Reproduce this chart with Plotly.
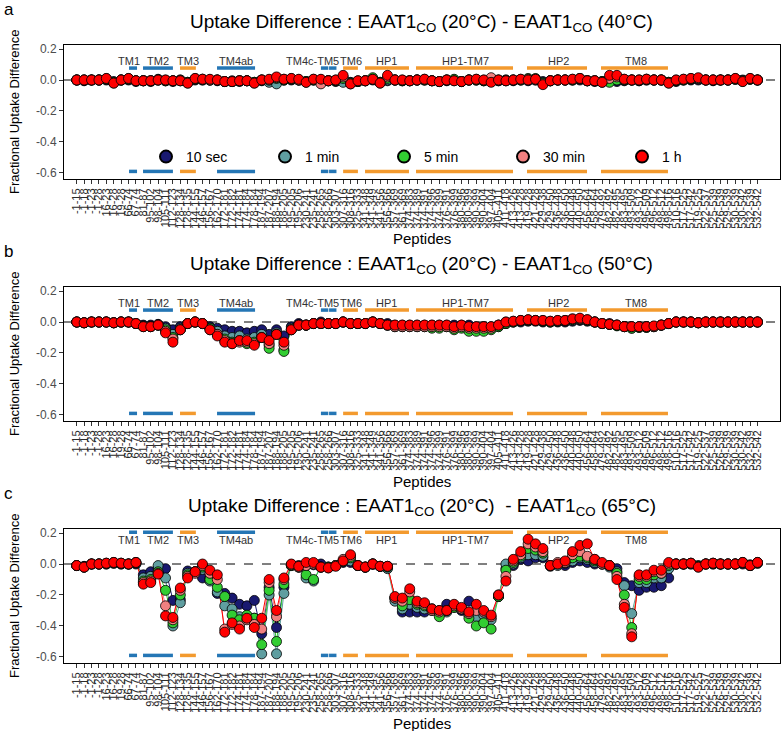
import plotly.graph_objects as go

# ---------------- data ----------------
peptides = ["-1-15","-1-18","-1-23","-1-28","16-23","16-28","19-28","66-74","67-74","81-87",
            "95-102","98-104","105-111","112-123","128-134","128-135","144-155","146-157","156-167","162-170",
            "172-181","172-182","174-181","174-184","178-184","187-194","187-207","188-194","188-205","195-205",
            "195-206","230-241","235-241","258-265","258-266","303-307","307-316","308-316","325-333","341-348",
            "341-349","341-356","356-366","357-369","361-369","374-383","374-389","374-391","374-396","374-399",
            "376-391","376-399","380-396","380-399","390-399","390-404","397-404","405-411","411-418","413-426",
            "413-428","419-428","421-428","429-438","429-450","436-448","436-450","440-448","440-450","456-464",
            "458-464","479-492","482-492","482-495","483-495","493-509","493-512","496-509","496-512","498-512",
            "498-516","510-516","517-525","517-542","519-525","522-537","525-539","526-539","529-539","530-539",
            "530-542","532-539","532-542"]

times = ["10 sec", "1 min", "5 min", "30 min", "1 h"]

# Panel a : 20C - 40C
a_10s = [0,-0.005,0,0,0,-0.01,0,0,-0.01,-0.005,
         -0.01,0,-0.005,-0.01,0,-0.015,0,0,0,-0.005,
         -0.01,-0.005,-0.01,-0.005,-0.015,-0.005,-0.01,-0.01,0,0,
         0,-0.01,0,0,-0.005,-0.01,-0.005,-0.015,-0.01,-0.005,
         0,-0.015,-0.005,0,-0.005,-0.005,0,0,-0.005,-0.01,
         -0.005,0,-0.01,0,0,-0.005,-0.01,-0.005,0,-0.005,
         0,-0.005,0,-0.01,-0.005,0,0,0,0,-0.005,
         -0.01,-0.01,-0.005,-0.01,-0.005,0,-0.005,0,0,0,
         -0.015,-0.01,0,0,0,0,-0.005,0,0,0.005,
         0,0.005,0]
a_1m = [0,0,0,0,0.005,-0.015,0,0.005,-0.005,-0.005,
        -0.005,0.005,-0.005,-0.005,0,-0.015,0.005,0,0,0,
        -0.01,-0.01,-0.005,-0.005,-0.015,0,-0.015,-0.025,0,0.005,
        0,-0.01,0,0,-0.005,-0.005,-0.015,-0.02,-0.01,-0.005,
        0.005,-0.015,0,0,-0.005,-0.005,0,0,-0.005,-0.01,
        0,0,-0.01,0,0,-0.005,-0.01,-0.005,0,0,
        0,0,0,-0.015,-0.005,0,0,0,0.005,-0.005,
        -0.005,-0.01,-0.01,0,0,0,-0.005,0,0,0,
        -0.015,-0.005,0,0.005,0.005,0,0,0,0,0.005,
        -0.005,0.005,0]
a_5m = [0,0,0,0,0.005,-0.015,0,0.005,-0.005,-0.005,
        -0.005,0,-0.005,-0.005,-0.005,-0.015,0.005,0.005,0,0,
        -0.01,-0.01,-0.005,-0.005,-0.015,0,0,0.01,0,0.005,
        0,-0.01,0,0,-0.005,-0.005,0.01,-0.02,-0.01,-0.005,
        0.015,-0.015,0.01,0,-0.005,-0.005,0,0,-0.005,-0.01,
        0,0.005,-0.01,0,0,-0.005,-0.01,0,-0.005,0,
        0,0.01,0.01,-0.02,-0.005,0,0,0,0.01,-0.005,
        -0.005,-0.01,-0.015,0,0,0,0,0.005,0,0,
        -0.015,-0.005,0,0.005,0.01,0,0,0,0,0.005,
        -0.005,0.005,0]
a_30m = [0,0,0,0,0.01,-0.02,0,0.01,-0.005,-0.005,
         -0.005,0,0,-0.005,-0.005,-0.02,0.01,0.005,0,0,
         -0.01,-0.01,-0.005,-0.005,-0.02,0,0,0.015,0.005,0.01,
         0,-0.015,0.005,-0.025,-0.005,0,0.02,-0.025,-0.005,-0.005,
         0.005,-0.02,0.02,0,0,-0.005,0,0.005,-0.005,-0.01,
         0,-0.005,-0.01,0,0.005,0,0.015,0,-0.005,0,
         0.005,0.005,0.005,-0.025,-0.005,0,0,0.005,0.01,-0.005,
         -0.005,-0.015,0.01,0.02,0.005,0,0,0.005,0,0,
         -0.02,0,0.005,0.01,0.01,0,0,0,0,0.01,
         -0.01,0.01,0]
a_1h = [0,0,0,0,0.01,-0.02,0,0.01,-0.005,-0.005,
        -0.005,0,0,-0.005,-0.005,-0.02,0.01,0.005,0.005,0,
        -0.01,-0.01,-0.005,-0.005,-0.02,0,0.005,0.02,0.005,0.01,
        0.005,-0.015,0.005,0.005,-0.005,0,0.03,-0.025,-0.005,-0.005,
        0.005,-0.02,0.03,0,0,-0.005,0,0.005,-0.005,-0.01,
        0,-0.005,-0.01,0,0.005,0,-0.015,0,-0.005,0,
        0.005,0,0.005,-0.03,-0.005,0,0,0.005,0.01,-0.005,
        -0.005,-0.015,0.03,0.03,0.005,0,0,0.005,0,0,
        -0.02,0,0.005,0.01,0.015,0,0,0,0,0.01,
        -0.01,0.01,0]

# Panel b : 20C - 50C
b_10s = [0,-0.005,0,0,0,-0.005,0,0,-0.01,-0.02,
         -0.02,-0.015,-0.03,-0.05,-0.03,-0.01,0,-0.01,-0.03,-0.04,
         -0.05,-0.06,-0.06,-0.07,-0.06,-0.05,-0.08,-0.05,-0.09,-0.03,
         -0.01,-0.02,-0.01,0,-0.01,-0.01,0,-0.01,-0.01,-0.01,
         0,-0.01,-0.01,-0.02,-0.02,-0.02,-0.02,-0.02,-0.02,-0.02,
         -0.02,-0.02,-0.02,-0.02,-0.03,-0.03,-0.03,-0.02,-0.01,0,
         0,0.005,0.005,0,0,0,0,0.005,0.01,0.005,
         0,-0.01,-0.01,-0.02,-0.03,-0.03,-0.03,-0.03,-0.03,-0.02,
         -0.01,0,0,0,-0.005,0,0,0,0,0,
         0,0,0]
b_1m = [0,-0.005,0,0,0,-0.005,0,0,-0.01,-0.025,
        -0.03,-0.02,-0.04,-0.08,-0.04,-0.01,0,-0.01,-0.04,-0.06,
        -0.09,-0.1,-0.09,-0.11,-0.1,-0.08,-0.15,-0.07,-0.18,-0.04,
        -0.02,-0.02,-0.01,-0.01,-0.01,-0.01,0,-0.01,-0.01,-0.01,
        0,-0.01,-0.02,-0.03,-0.03,-0.03,-0.03,-0.03,-0.03,-0.03,
        -0.03,-0.04,-0.03,-0.04,-0.04,-0.04,-0.04,-0.03,-0.01,0,
        0.005,0.01,0.01,0.005,0,0.005,0.005,0.01,0.015,0.01,
        0,-0.01,-0.015,-0.02,-0.03,-0.04,-0.035,-0.035,-0.03,-0.02,
        -0.01,0,0,0,-0.005,0,0,0,0,0,
        0,0,0]
b_5m = [0,-0.005,0,0,0,-0.005,0,0,-0.01,-0.03,
        -0.03,-0.02,-0.05,-0.1,-0.05,-0.01,0,-0.01,-0.04,-0.08,
        -0.11,-0.13,-0.12,-0.14,-0.13,-0.1,-0.17,-0.08,-0.19,-0.05,
        -0.02,-0.02,-0.01,-0.01,-0.01,-0.01,0,-0.01,-0.01,-0.01,
        0,-0.01,-0.02,-0.03,-0.03,-0.03,-0.03,-0.03,-0.04,-0.04,
        -0.03,-0.05,-0.04,-0.06,-0.06,-0.06,-0.05,-0.03,-0.01,0,
        0.01,0.01,0.01,0.005,0,0.005,0.01,0.015,0.02,0.01,
        0,-0.01,-0.015,-0.025,-0.03,-0.04,-0.035,-0.035,-0.03,-0.02,
        -0.01,0,0,0,-0.005,0,0,0,0,0,
        0,0,0]
b_30m = [0,-0.005,0,0,0,-0.005,0,0,-0.01,-0.03,
         -0.03,-0.02,-0.06,-0.11,-0.05,-0.01,0,-0.01,-0.05,-0.08,
         -0.12,-0.14,-0.13,-0.13,-0.14,-0.1,-0.14,-0.08,-0.15,-0.05,
         -0.02,-0.02,-0.01,-0.01,-0.01,-0.01,0,-0.01,-0.01,-0.01,
         0,-0.01,-0.02,-0.03,-0.03,-0.03,-0.03,-0.03,-0.03,-0.03,
         -0.03,-0.04,-0.03,-0.04,-0.04,-0.04,-0.04,-0.02,0,0.005,
         0.01,0.015,0.01,0.01,0.005,0.01,0.01,0.02,0.02,0.015,
         0,-0.01,-0.015,-0.02,-0.03,-0.03,-0.03,-0.03,-0.03,-0.02,
         -0.01,0,0,0,-0.005,0,0,0,0,0,
         0,0,0]
b_1h = [0,-0.005,0,0,0,-0.005,0,0,-0.01,-0.03,
        -0.03,-0.02,-0.07,-0.13,-0.05,-0.01,0,-0.01,-0.05,-0.09,
        -0.13,-0.14,-0.12,-0.12,-0.15,-0.1,-0.12,-0.08,-0.13,-0.05,
        -0.02,-0.02,-0.01,-0.01,-0.01,-0.01,0,-0.01,-0.01,-0.01,
        0,-0.01,-0.02,-0.02,-0.02,-0.02,-0.02,-0.02,-0.02,-0.02,
        -0.02,-0.03,-0.02,-0.03,-0.03,-0.03,-0.03,-0.02,0,0.005,
        0.01,0.015,0.01,0.01,0.005,0.01,0.01,0.02,0.025,0.015,
        0,-0.01,-0.015,-0.02,-0.03,-0.03,-0.03,-0.03,-0.025,-0.02,
        -0.01,0,0,0,-0.005,0,0,0,0,0,
        0,0,0]

# Panel c : 20C - 65C
c_10s = [-0.01,-0.015,0,0,0,0.005,0,0,0,-0.07,
         -0.05,-0.03,-0.03,-0.235,-0.23,-0.045,-0.05,-0.09,-0.09,-0.19,
         -0.19,-0.22,-0.26,-0.27,-0.235,-0.45,-0.15,-0.41,-0.15,-0.005,
         -0.01,-0.01,-0.005,0,-0.02,-0.01,0.01,0.01,-0.01,-0.02,
         0,-0.015,-0.015,-0.22,-0.31,-0.31,-0.31,-0.31,-0.29,-0.30,
         -0.26,-0.27,-0.30,-0.24,-0.32,-0.32,-0.35,-0.21,-0.03,-0.01,
         0.03,0.02,0.04,0.04,-0.01,0,-0.01,0.01,0.02,0.01,
         0,0,-0.01,-0.03,-0.12,-0.14,-0.17,-0.15,-0.15,-0.14,
         -0.09,0,0,0,-0.01,0,0,0,0,0,
         0,-0.005,0.005]
c_1m = [-0.01,-0.02,0,0,0,0.005,0,0,0.005,-0.09,
        -0.08,-0.01,-0.09,-0.40,-0.25,-0.06,-0.05,-0.035,-0.11,-0.18,
        -0.27,-0.29,-0.34,-0.34,-0.35,-0.58,-0.20,-0.58,-0.19,-0.01,
        -0.02,-0.09,-0.11,-0.02,-0.02,-0.01,0.015,0.02,-0.01,-0.02,
        0,-0.015,-0.03,-0.24,-0.29,-0.26,-0.28,-0.29,-0.29,-0.31,
        -0.31,-0.28,-0.29,-0.33,-0.34,-0.33,-0.36,-0.21,0,0,
        0.04,0.06,0.06,0.05,-0.015,-0.01,0.005,0.02,0.04,0.03,
        0.01,0,-0.02,-0.05,-0.14,-0.32,-0.12,-0.12,-0.09,-0.09,
        -0.03,0,0,0,-0.015,0,0,0,0,0,
        0.005,-0.01,0.005]
c_5m = [-0.01,-0.02,0,0,0.005,0.01,0.005,0,0.01,-0.11,
        -0.10,-0.05,-0.17,-0.38,-0.20,-0.07,-0.05,-0.02,-0.10,-0.15,
        -0.21,-0.33,-0.36,-0.33,-0.35,-0.52,-0.17,-0.50,-0.13,-0.01,
        -0.02,-0.07,-0.10,-0.02,-0.02,-0.01,0.02,0.04,-0.01,-0.02,
        0,-0.015,-0.02,-0.22,-0.27,-0.23,-0.26,-0.27,-0.30,-0.34,
        -0.30,-0.28,-0.29,-0.35,-0.40,-0.38,-0.42,-0.21,-0.04,0.01,
        0.05,0.10,0.09,0.07,-0.01,0,0.01,0.04,0.05,0.04,
        0.02,0,-0.01,-0.06,-0.20,-0.41,-0.10,-0.10,-0.07,-0.06,
        -0.01,0,0,0.005,-0.015,0,0.005,0,0,0,
        0.01,-0.01,0.01]
c_30m = [-0.01,-0.02,0,0,0.005,0.01,0.005,0,0.01,-0.12,
         -0.11,-0.06,-0.27,-0.36,-0.17,-0.08,-0.06,-0.01,-0.06,-0.10,
         -0.42,-0.39,-0.40,-0.36,-0.39,-0.42,-0.12,-0.34,-0.10,-0.005,
         -0.02,-0.01,0,-0.02,-0.025,-0.01,0.03,0.05,-0.01,-0.02,
         0,-0.015,-0.015,-0.22,-0.24,-0.18,-0.25,-0.26,-0.30,-0.31,
         -0.30,-0.27,-0.29,-0.32,-0.30,-0.31,-0.34,-0.20,-0.08,0.02,
         0.06,0.13,0.11,0.08,-0.01,0.01,0.01,0.06,0.08,0.05,
         0.03,0,-0.01,-0.08,-0.26,-0.45,-0.08,-0.08,-0.05,-0.06,
         0,0,0,0.005,-0.02,0,0.005,0,0,0,
         0.01,-0.01,0.01]
c_1h = [-0.01,-0.02,0,0,0.005,0.01,0.005,0,0.01,-0.13,
        -0.12,-0.065,-0.335,-0.345,-0.155,-0.09,-0.05,0,-0.04,-0.07,
        -0.44,-0.38,-0.42,-0.35,-0.41,-0.35,-0.10,-0.30,-0.09,0,
        -0.015,0.01,0.01,-0.02,-0.025,-0.015,0.02,0.06,-0.01,-0.02,
        0,-0.015,-0.015,-0.21,-0.22,-0.16,-0.24,-0.25,-0.29,-0.30,
        -0.30,-0.26,-0.28,-0.31,-0.26,-0.30,-0.33,-0.20,-0.11,0.03,
        0.08,0.16,0.13,0.10,-0.01,0,0.02,0.08,0.12,0.13,
        0.03,0.01,-0.01,-0.10,-0.28,-0.47,-0.07,-0.07,-0.04,-0.04,
        0.01,0,0,0.005,-0.02,0,0.005,0,0,0,
        0.01,-0.01,0.01]

panel_series = [
    [a_10s, a_1m, a_5m, a_30m, a_1h],
    [b_10s, b_1m, b_5m, b_30m, b_1h],
    [c_10s, c_1m, c_5m, c_30m, c_1h],
]
panel_titles = [
    "Uptake Difference : EAAT1<sub>CO</sub> (20°C) - EAAT1<sub>CO</sub> (40°C)",
    "Uptake Difference : EAAT1<sub>CO</sub> (20°C) - EAAT1<sub>CO</sub> (50°C)",
    "Uptake Difference : EAAT1<sub>CO</sub> (20°C)  - EAAT1<sub>CO</sub> (65°C)",
]
panel_letters = ["a", "b", "c"]

# structural segments (peptide-index spans) and label centres
seg_names = ["TM1", "TM2", "TM3", "TM4ab", "TM4c-TM5", "TM6", "HP1", "HP1-TM7", "HP2", "TM8"]
seg_kind = ["b", "b", "o", "b", "b", "o", "o", "o", "o", "o"]
seg_spans = [[(7.07, 8.15)], [(8.96, 13.0)], [(13.96, 16.1)], [(18.96, 24.1)],
             [(33.0, 34.0), (34.1, 35.1)], [(36.0, 38.0)], [(38.96, 44.9)],
             [(45.85, 58.96)], [(60.85, 68.96)], [(70.85, 79.9)]]
seg_label_x = [7.1, 11.0, 15.0, 21.5, 31.8, 37.1, 41.8, 52.5, 65.1, 75.6]

# ---------------- style ----------------
W, H = 784, 731
FONT = "Liberation Sans, Arial, sans-serif"
colors = ["#191970", "#5F9EA0", "#32CD32", "#F08080", "#FF0000"]
seg_colors = {"b": "#2476B5", "o": "#F39A2E"}
boxes = [(45, 179), (287, 421), (529, 663)]      # pixel rows of the plot boxes
bar_top_y = [0.077, 0.077, 0.205]
lab_y = [0.125, 0.125, 0.155]
bar_bot_y = -0.59
XL, XR = 64, 780

def py(v):
    return 1 - v / H

def px(v):
    return v / W

fig = go.Figure()
x = list(range(len(peptides)))

for p in range(3):
    xa = "x" if p == 0 else f"x{p+1}"
    ya = "y" if p == 0 else f"y{p+1}"
    for s in range(5):
        fig.add_trace(go.Scatter(
            x=x, y=panel_series[p][s], xaxis=xa, yaxis=ya, mode="lines",
            showlegend=False, hoverinfo="skip", line=dict(color=colors[s], width=1)))
    for s in range(5):
        fig.add_trace(go.Scatter(
            x=x, y=panel_series[p][s], xaxis=xa, yaxis=ya,
            mode="markers", name=times[s], showlegend=(p == 0),
            marker=dict(color=colors[s], size=10, line=dict(color="black", width=0.8)),
        ))

layout = dict(
    width=W, height=H, margin=dict(l=0, r=0, t=0, b=0, autoexpand=False),
    paper_bgcolor="white", plot_bgcolor="white",
    font=dict(family=FONT, color="black"),
    showlegend=True,
    legend=dict(orientation="h", x=px(146), y=py(157), xanchor="left", yanchor="middle",
                entrywidth=74, entrywidthmode="pixels", font=dict(size=14),
                bgcolor="rgba(0,0,0,0)", traceorder="normal", itemsizing="constant"),
)
shapes, annotations = [], []
for p in range(3):
    top, bot = boxes[p]
    sfx = "" if p == 0 else str(p + 1)
    layout[f"xaxis{sfx}"] = dict(
        domain=[px(XL), px(XR)], anchor=f"y{sfx}", range=[-1.72, 95.04],
        tickmode="array", tickvals=x, ticktext=peptides, tickangle=-90,
        tickfont=dict(size=11, color="#2a2a2a"), ticks="outside", ticklen=4, tickcolor="#333333",
        showline=True, linecolor="black", linewidth=1, mirror=True,
        showgrid=False, zeroline=False)
    layout[f"yaxis{sfx}"] = dict(
        domain=[py(bot), py(top)], anchor=f"x{sfx}", range=[-0.639, 0.226],
        tickmode="array", tickvals=[-0.6, -0.4, -0.2, 0.0, 0.2],
        ticktext=["-0.6", "-0.4", "-0.2", "0.0", "0.2"],
        tickfont=dict(size=12, color="#4d4d4d"), ticks="outside", ticklen=4, tickcolor="#333333",
        showline=True, linecolor="black", linewidth=1, mirror=True,
        showgrid=False, zeroline=False)
    xr, yr = f"x{sfx}", f"y{sfx}"
    shapes.append(dict(type="line", xref=f"{xr} domain", yref=yr, x0=0, x1=1, y0=0, y1=0,
                       line=dict(color="black", width=1, dash="dash"), layer="below"))
    for name, kind, spans, lx in zip(seg_names, seg_kind, seg_spans, seg_label_x):
        for (s0, s1) in spans:
            for yy in (bar_top_y[p], bar_bot_y):
                shapes.append(dict(type="line", xref=xr, yref=yr, x0=s0, x1=s1, y0=yy, y1=yy,
                                   line=dict(color=seg_colors[kind], width=3.5), layer="below"))
        annotations.append(dict(x=lx, y=lab_y[p], xref=xr, yref=yr, text=name, showarrow=False,
                                font=dict(size=11, color="#333333"), yanchor="middle"))
    annotations.append(dict(x=px((XL + XR) / 2), y=py(top - 22), xref="paper", yref="paper",
                            text=panel_titles[p], showarrow=False, font=dict(size=19),
                            xanchor="center", yanchor="middle"))
    annotations.append(dict(x=px(2), y=py(top - 36), xref="paper", yref="paper",
                            text=panel_letters[p], showarrow=False, font=dict(size=17),
                            xanchor="left", yanchor="middle"))
    annotations.append(dict(x=px(14), y=py((top + bot) / 2), xref="paper", yref="paper",
                            text="Fractional Uptake Difference", textangle=-90, showarrow=False,
                            font=dict(size=13), xanchor="center", yanchor="middle"))
    annotations.append(dict(x=px((XL + XR) / 2), y=py(bot + 60), xref="paper", yref="paper",
                            text="Peptides", showarrow=False, font=dict(size=15),
                            xanchor="center", yanchor="middle"))

layout["shapes"] = shapes
layout["annotations"] = annotations
fig.update_layout(**layout)
fig.write_html("out.html", config={"displayModeBar": False},
               post_script="document.body.style.margin='0';document.body.style.overflow='hidden';")
